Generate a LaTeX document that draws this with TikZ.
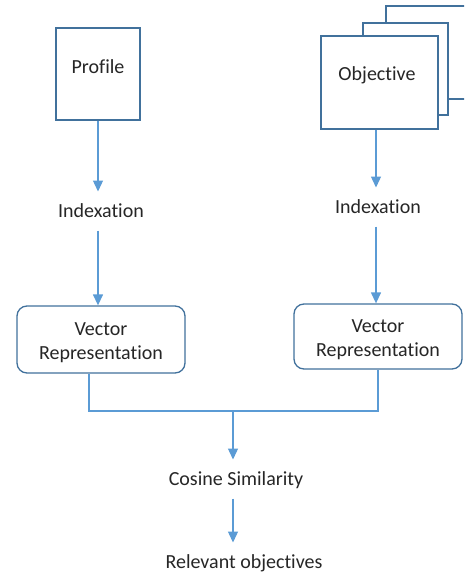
\documentclass[tikz,border=0pt]{standalone}
\usepackage{fontspec}
\setmainfont{Carlito}[Ligatures=NoCommon]
\usetikzlibrary{arrows.meta}
\definecolor{boxblue}{HTML}{41719C}
\definecolor{linkblue}{HTML}{5B9BD5}
\definecolor{ink}{HTML}{262626}
\tikzset{
  every node/.style={font=\fontsize{20}{24.5}\selectfont, text=ink},
  boxnode/.style={draw=boxblue, line width=1.3pt, fill=white, inner sep=0pt},
  roundbox/.style={boxnode, rounded corners=10pt},
  boxtext/.style={align=center, inner sep=0pt},
  plainlabel/.style={inner sep=0pt, text height=16pt, text depth=3pt, outer sep=10pt},
  link/.style={draw=linkblue, line width=1.3pt},
  arr/.style={link, -{Triangle[width=10pt,length=11pt]}},
}
\begin{document}
\begin{tikzpicture}[x=1pt, y=-1pt]
  \useasboundingbox (0,0) rectangle (464,573);
  \clip (0,0) rectangle (464,573);

  % column positions of the vertical connectors
  \coordinate (colL) at (98,0);
  \coordinate (colR) at (376,0);
  \coordinate (join) at (233,411);

  % left branch: profile
  \node[boxnode, minimum width=84pt, minimum height=92pt] (profile) at (98,74) {};
  \node (profiletxt) at (98,67) {Profile};
  \node[plainlabel] (idxL) at (101,211) {Indexation};
  \node[roundbox, minimum width=168pt, minimum height=67pt] (vrL) at (101,339.5) {};
  \node[boxtext] (vrLtxt) at (101,342.5) {Vector\\Representation};

  % right branch: stacked objective sheets
  \node[boxnode, minimum width=84pt, minimum height=93pt] (objback) at (428,52.5) {};
  \node[boxnode, minimum width=85pt, minimum height=92pt] (objmid) at (405.5,69) {};
  \node[boxnode, minimum width=117pt, minimum height=93pt] (objfront) at (379.5,82.5) {};
  \node (objtxt) at (377,75) {Objective};
  \node[plainlabel] (idxR) at (378,207) {Indexation};
  \node[roundbox, minimum width=168pt, minimum height=65pt] (vrR) at (378,336.5) {};
  \node[boxtext] (vrRtxt) at (378,339.5) {Vector\\Representation};

  % merged output
  \node[plainlabel] (cos) at (236,479) {Cosine Similarity};
  \node[plainlabel] (rel) at (244,562) {Relevant objectives};

  % connectors
  \draw[arr] (profile.south) -- (colL |- idxL.north);
  \draw[arr] (colL |- idxL.south) -- (colL |- vrL.north);
  \draw[arr] (colR |- objfront.south) -- (colR |- idxR.north);
  \draw[arr] (colR |- idxR.south) -- (colR |- vrR.north);
  \draw[link] ([xshift=-12pt]vrL.south) |- (join) -| (vrR.south);
  \draw[arr] (join) -- (join |- cos.north);
  \draw[arr] (join |- cos.south) -- (join |- rel.north);
\end{tikzpicture}
\end{document}
